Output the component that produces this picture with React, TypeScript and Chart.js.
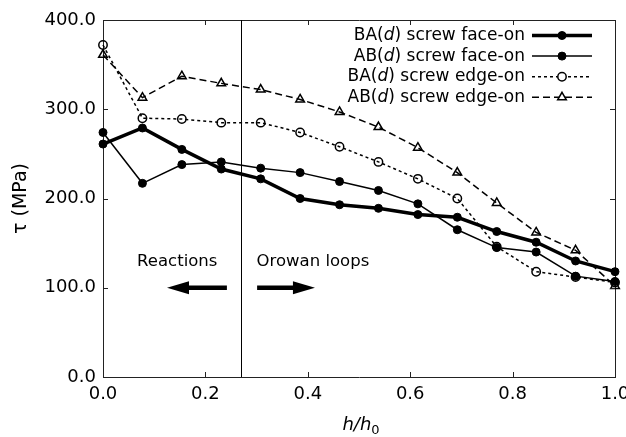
import React, { useEffect, useRef } from 'react';
import { Chart, registerables } from 'chart.js';
import { drawPoint } from 'chart.js/helpers';

Chart.register(...registerables);

// ---- data ----
const hValues = [0.0, 0.077, 0.154, 0.231, 0.308, 0.385, 0.462, 0.538, 0.615, 0.692, 0.769, 0.846, 0.923, 1.0];
const baFaceOn = [261, 279, 255, 233, 222, 200, 193, 189, 182, 179, 163, 151, 130, 118];
const abFaceOn = [274, 217, 238, 241, 234, 229, 219, 209, 194, 165, 145, 140, 113, 107];
const baEdgeOn = [372, 290, 289, 285, 285, 274, 258, 241, 222, 200, 146, 118, 112, 106];
const abEdgeOn = [361, 313, 337, 329, 322, 311, 297, 280, 257, 229, 195, 162, 142, 102];
const seriesLabels = ['BA(d) screw face-on', 'AB(d) screw face-on', 'BA(d) screw edge-on', 'AB(d) screw edge-on'];

const xTickStep = 0.2;
const yTickStep = 100;
const xTitleMain = 'h/h';
const xTitleSub = '0';
const yTitle = 'τ (MPa)';
const boundaryH = 0.27;
const reactionsLabel = { text: 'Reactions', x: 0.145, y: 129 };
const orowanLabel = { text: 'Orowan loops', x: 0.41, y: 129 };
const leftArrow = { from: 0.242, to: 0.125, y: 100 };
const rightArrow = { from: 0.301, to: 0.414, y: 100 };

const FONT = '"DejaVu Sans", "Liberation Sans", sans-serif';
const FRAME = '#222';

const styles = [
  { borderWidth: 3.5, dash: [] as number[], pointStyle: 'circle', radius: 4, fill: '#000' },
  { borderWidth: 1.5, dash: [] as number[], pointStyle: 'circle', radius: 4, fill: '#000' },
  { borderWidth: 1.5, dash: [3, 3], pointStyle: 'circle', radius: 4.2, fill: 'rgba(0,0,0,0)' },
  { borderWidth: 1.5, dash: [7, 4], pointStyle: 'triangle', radius: 5, fill: 'rgba(0,0,0,0)' },
];

function drawArrow(ctx: CanvasRenderingContext2D, x1: number, x2: number, y: number) {
  const dir = x2 > x1 ? 1 : -1;
  const headLen = 22;
  const headHalf = 6.5;
  const baseX = x2 - dir * headLen;
  ctx.lineWidth = 4.5;
  ctx.setLineDash([]);
  ctx.beginPath();
  ctx.moveTo(x1, y);
  ctx.lineTo(baseX + dir * 2, y);
  ctx.stroke();
  ctx.beginPath();
  ctx.moveTo(x2, y);
  ctx.lineTo(baseX, y - headHalf);
  ctx.lineTo(baseX, y + headHalf);
  ctx.closePath();
  ctx.fill();
}

const overlayPlugin = {
  id: 'overlay',
  afterDatasetsDraw(chart: any) {
    const { ctx, chartArea, scales } = chart;
    const xs = scales.x;
    const ys = scales.y;
    ctx.save();

    // inward tick marks on all four sides, from the scales' own ticks
    ctx.strokeStyle = FRAME;
    ctx.lineWidth = 1;
    ctx.setLineDash([]);
    const tl = 5;
    xs.ticks.forEach((t: any) => {
      const px = Math.round(xs.getPixelForValue(t.value)) + 0.5;
      ctx.beginPath();
      ctx.moveTo(px, chartArea.bottom);
      ctx.lineTo(px, chartArea.bottom - tl);
      ctx.moveTo(px, chartArea.top);
      ctx.lineTo(px, chartArea.top + tl);
      ctx.stroke();
    });
    ys.ticks.forEach((t: any) => {
      const py = Math.round(ys.getPixelForValue(t.value)) + 0.5;
      ctx.beginPath();
      ctx.moveTo(chartArea.left, py);
      ctx.lineTo(chartArea.left + tl, py);
      ctx.moveTo(chartArea.right, py);
      ctx.lineTo(chartArea.right - tl, py);
      ctx.stroke();
    });

    ctx.strokeStyle = '#000';
    ctx.fillStyle = '#000';
    // boundary line
    const vx = Math.round(xs.getPixelForValue(boundaryH)) + 0.5;
    ctx.lineWidth = 1;
    ctx.beginPath();
    ctx.moveTo(vx, chartArea.top);
    ctx.lineTo(vx, chartArea.bottom);
    ctx.stroke();

    // annotations
    ctx.font = `16.5px ${FONT}`;
    ctx.textAlign = 'center';
    ctx.textBaseline = 'middle';
    ctx.fillText(reactionsLabel.text, xs.getPixelForValue(reactionsLabel.x), ys.getPixelForValue(reactionsLabel.y));
    ctx.fillText(orowanLabel.text, xs.getPixelForValue(orowanLabel.x), ys.getPixelForValue(orowanLabel.y));
    drawArrow(ctx, xs.getPixelForValue(leftArrow.from), xs.getPixelForValue(leftArrow.to), ys.getPixelForValue(leftArrow.y));
    drawArrow(ctx, xs.getPixelForValue(rightArrow.from), xs.getPixelForValue(rightArrow.to), ys.getPixelForValue(rightArrow.y));

    // x axis title: italic h/h with subscript 0
    {
      const mainFont = `italic 18px ${FONT}`;
      const subFont = `13px ${FONT}`;
      ctx.font = mainFont;
      const wMain = ctx.measureText(xTitleMain).width;
      ctx.font = subFont;
      const wSub = ctx.measureText(xTitleSub).width;
      const cx = (chartArea.left + chartArea.right) / 2 + 2;
      const base = 430;
      let x = cx - (wMain + wSub) / 2;
      ctx.textAlign = 'left';
      ctx.textBaseline = 'alphabetic';
      ctx.font = mainFont;
      ctx.fillText(xTitleMain, x, base);
      x += wMain;
      ctx.font = subFont;
      ctx.fillText(xTitleSub, x, base + 4);
    }

    // legend (gnuplot style: text then line sample)
    const lineEnd = chartArea.right - 23;
    const lineStart = lineEnd - 60;
    const textRight = lineStart - 7;
    chart.data.datasets.forEach((ds: any, i: number) => {
      const y = chartArea.top + 15.5 + i * 20.6;
      const st = styles[i];
      const label: string = ds.label;
      const idx = label.indexOf('(d)');
      const pre = label.slice(0, idx + 1);
      const mid = 'd';
      const post = label.slice(idx + 2);
      const regular = `17px ${FONT}`;
      const italic = `italic 17px ${FONT}`;
      ctx.font = regular;
      const wPre = ctx.measureText(pre).width;
      const wPost = ctx.measureText(post).width;
      ctx.font = italic;
      const wMid = ctx.measureText(mid).width;
      let x = textRight - (wPre + wMid + wPost);
      ctx.textAlign = 'left';
      ctx.textBaseline = 'middle';
      ctx.fillStyle = '#000';
      ctx.font = regular;
      ctx.fillText(pre, x, y);
      x += wPre;
      ctx.font = italic;
      ctx.fillText(mid, x, y);
      x += wMid;
      ctx.font = regular;
      ctx.fillText(post, x, y);
      // line sample
      ctx.strokeStyle = '#000';
      ctx.lineWidth = st.borderWidth;
      ctx.setLineDash(st.dash);
      ctx.beginPath();
      ctx.moveTo(lineStart, y);
      ctx.lineTo(lineEnd, y);
      ctx.stroke();
      ctx.setLineDash([]);
      ctx.fillStyle = st.fill === '#000' ? '#000' : '#fff';
      ctx.lineWidth = st.fill === '#000' ? 1 : 1.5;
      drawPoint(ctx, { pointStyle: st.pointStyle as any, rotation: 0, radius: st.radius, borderWidth: ctx.lineWidth }, (lineStart + lineEnd) / 2, y);
      ctx.fillStyle = '#000';
    });
    ctx.restore();
  },
};

export default function App() {
  const canvasRef = useRef<HTMLCanvasElement | null>(null);

  useEffect(() => {
    const canvas = canvasRef.current;
    if (!canvas) return;
    const seriesValues = [baFaceOn, abFaceOn, baEdgeOn, abEdgeOn];
    const datasets = seriesValues.map((vals, i) => {
      const st = styles[i];
      return {
        label: seriesLabels[i],
        data: hValues.map((h, k) => ({ x: h, y: vals[k] })),
        borderColor: '#000',
        backgroundColor: '#000',
        borderWidth: st.borderWidth,
        borderDash: st.dash,
        pointStyle: st.pointStyle,
        pointRadius: st.radius,
        pointHoverRadius: st.radius,
        pointBackgroundColor: st.fill,
        pointBorderColor: '#000',
        pointBorderWidth: st.fill === '#000' ? 1 : 1.5,
        tension: 0,
        fill: false,
        clip: false as any,
      };
    });

    const tickFont = { family: FONT, size: 18 };
    const chart = new Chart(canvas, {
      type: 'line',
      data: { datasets: datasets as any },
      plugins: [overlayPlugin],
      options: {
        responsive: false,
        animation: false,
        events: [],
        layout: { padding: { left: 0, top: 20, right: 11, bottom: 0 } },
        plugins: { legend: { display: false }, tooltip: { enabled: false } },
        scales: {
          x: {
            type: 'linear',
            position: 'bottom',
            min: 0,
            max: 1,
            ticks: {
              stepSize: xTickStep,
              color: '#000',
              font: tickFont,
              padding: 7,
              maxRotation: 0,
              callback: (v: any) => Number(v).toFixed(1),
            },
            grid: { drawOnChartArea: false, drawTicks: false },
            border: { display: true, color: FRAME, width: 1 },
            title: { display: false },
            afterFit: (s: any) => {
              s.height = 60;
              s.paddingLeft = 0;
              s.paddingRight = 0;
            },
          },
          x2: {
            type: 'linear',
            position: 'top',
            min: 0,
            max: 1,
            ticks: { stepSize: xTickStep, display: false },
            grid: { drawOnChartArea: false, drawTicks: false },
            border: { display: true, color: FRAME, width: 1 },
            afterFit: (s: any) => {
              s.height = 0;
              s.paddingLeft = 0;
              s.paddingRight = 0;
            },
          },
          y: {
            type: 'linear',
            position: 'left',
            min: 0,
            max: 400,
            ticks: {
              stepSize: yTickStep,
              color: '#000',
              font: tickFont,
              padding: 7,
              callback: (v: any) => Number(v).toFixed(1),
            },
            grid: { drawOnChartArea: false, drawTicks: false },
            border: { display: true, color: FRAME, width: 1 },
            title: {
              display: true,
              text: yTitle,
              color: '#000',
              font: { family: FONT, size: 19 },
              padding: { top: 10, bottom: 0 },
            },
            afterFit: (s: any) => {
              s.width = 103;
              s.paddingTop = 0;
              s.paddingBottom = 0;
            },
          },
          y2: {
            type: 'linear',
            position: 'right',
            min: 0,
            max: 400,
            ticks: { stepSize: yTickStep, display: false },
            grid: { drawOnChartArea: false, drawTicks: false },
            border: { display: true, color: FRAME, width: 1 },
            afterFit: (s: any) => {
              s.width = 0;
              s.paddingTop = 0;
              s.paddingBottom = 0;
            },
          },
        },
      } as any,
    });
    return () => chart.destroy();
  }, []);

  return (
    <div style={{ position: 'fixed', left: 0, top: 0, width: 626, height: 437, background: '#fff' }}>
      <canvas ref={canvasRef} width={626} height={437} style={{ display: 'block', width: 626, height: 437 }} />
    </div>
  );
}
